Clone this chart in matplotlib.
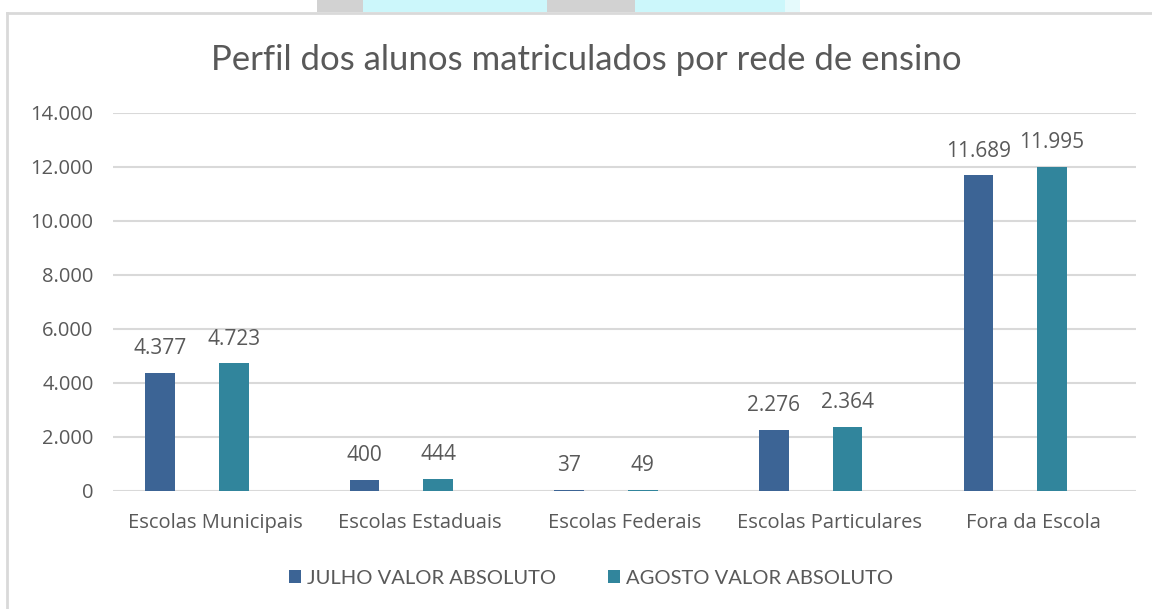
import matplotlib.pyplot as plt
import matplotlib.patches as mpatches
import numpy as np
from matplotlib.ticker import FuncFormatter

# dados
categorias = ['Escolas Municipais', 'Escolas Estaduais', 'Escolas Federais',
              'Escolas Particulares', 'Fora da Escola']
julho = [4377, 400, 37, 2276, 11689]
agosto = [4723, 444, 49, 2364, 11995]
series = ['JULHO VALOR ABSOLUTO', 'AGOSTO VALOR ABSOLUTO']

cor_julho = '#3C6495'
cor_agosto = '#31859C'
cinza_txt = '#595959'
cinza_grid = '#D9D9D9'

W, H = 1152, 609
fig = plt.figure(figsize=(W / 100, H / 100), dpi=100)
plt.rcParams['font.family'] = ['Open Sans', 'DejaVu Sans']

# faixa de fundo no topo (imagem recortada)
def px_rect(x0, x1, y0, y1, cor, alpha=1.0):
    fig.patches.append(mpatches.Rectangle((x0 / W, 1 - y1 / H), (x1 - x0) / W, (y1 - y0) / H,
                                          transform=fig.transFigure, color=cor, alpha=alpha,
                                          lw=0, zorder=0))

px_rect(317, 363, 0, 12, '#D2D2D2')
px_rect(363, 547, 0, 12, '#CCF7FB')
px_rect(547, 635, 0, 12, '#D2D2D2')
px_rect(635, 785, 0, 12, '#CCF7FB')
px_rect(785, 800, 0, 12, '#CCF7FB', 0.5)

# moldura
fig.add_artist(plt.Line2D([7 / W, 1], [1 - 13 / H, 1 - 13 / H], transform=fig.transFigure,
                          color=cinza_grid, lw=2))
fig.add_artist(plt.Line2D([7 / W, 7 / W], [0, 1 - 13 / H], transform=fig.transFigure,
                          color=cinza_grid, lw=2))

ax = fig.add_axes([113 / W, 1 - 491 / H, (1136 - 113) / W, (491 - 113) / H])

x = np.arange(len(categorias))
larg = 0.145
b1 = ax.bar(x - 0.27, julho, larg, color=cor_julho, label=series[0], zorder=3)
b2 = ax.bar(x + 0.09, agosto, larg, color=cor_agosto, label=series[1], zorder=3)

def fmt(v, pos=None):
    return f'{int(v):,}'.replace(',', '.')

for barras, vals in [(b1, julho), (b2, agosto)]:
    for b, v in zip(barras, vals):
        ax.annotate(fmt(v), (b.get_x() + b.get_width() / 2, v), xytext=(0, 17.5),
                    textcoords='offset points', ha='center', va='center',
                    fontsize=15, color=cinza_txt)

ax.set_xlim(-0.5, len(categorias) - 0.5)
ax.set_ylim(0, 14000)
ax.set_yticks(range(0, 14001, 2000))
ax.yaxis.set_major_formatter(FuncFormatter(fmt))
ax.set_xticks(x)
ax.set_xticklabels(categorias)
ax.tick_params(axis='both', length=0, labelsize=14.5, labelcolor=cinza_txt)
ax.tick_params(axis='y', pad=14)
ax.tick_params(axis='x', pad=16)
ax.grid(axis='y', color=cinza_grid, lw=1.5, zorder=0)
for s in ax.spines.values():
    s.set_visible(False)

fig.text(586 / W, 1 - 60 / H, 'Perfil dos alunos matriculados por rede de ensino',
         ha='center', va='center', fontsize=25, color=cinza_txt,
         family=['Lato', 'DejaVu Sans'])

leg = fig.legend(handles=[b1, b2], labels=series, loc='center', bbox_to_anchor=(591 / W, 1 - 578 / H),
                 ncol=2, frameon=False, handlelength=0.6, handleheight=0.6,
                 handletextpad=0.3, columnspacing=2.6,
                 prop={'family': ['Lato', 'DejaVu Sans'], 'size': 14.5})
for t in leg.get_texts():
    t.set_color(cinza_txt)

fig.savefig('out.png', dpi=100, facecolor='white')
